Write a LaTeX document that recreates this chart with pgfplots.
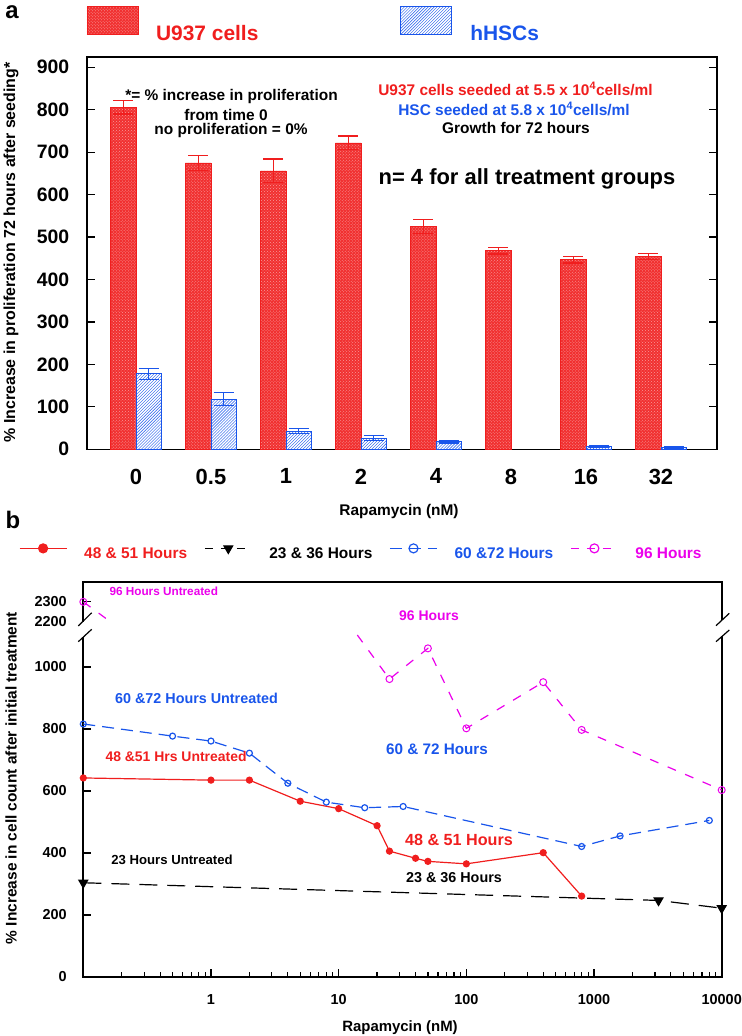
\documentclass[border=0pt]{standalone}
\usepackage{fontspec}
\setmainfont{Liberation Sans}
\usepackage{pgfplots}
\pgfplotsset{compat=1.18}
\usetikzlibrary{patterns}
\definecolor{myred}{RGB}{240,30,30}
\definecolor{myblue}{RGB}{25,85,235}
\definecolor{mymag}{RGB}{235,0,235}
\newcommand\fs[1]{\fontsize{#1}{#1}\selectfont\bfseries}
\begin{document}
\begin{tikzpicture}
\useasboundingbox (0,0) rectangle (742bp,-1036bp);

% ---------------- panel a ----------------
\begin{axis}[
  name=pa, at={(86.7bp,-449.3bp)}, anchor=south west, scale only axis,
  width=630.3bp, height=392.6bp,
  xmin=-0.657, xmax=7.747, ymin=0, ymax=925,
  ybar=0pt, bar width=25.5bp,
  xtick={0,1,2,3,4,5,6,7}, xticklabels={0,0.5,1,2,4,8,16,32},
  xtick style={draw=none},
  ytick={0,100,200,300,400,500,600,700,800,900},
  tick align=inside, major tick length=8bp,
  ytick style={line width=1.2bp, black},
  axis line style={line width=1.6bp},
  /pgf/number format/assume math mode=true,
  yticklabel style={font=\fs{19.5}, xshift=-14bp},
  xticklabel style={font=\fs{22}, yshift=-16bp},
  legend style={at={(0,1.084)}, anchor=west, draw=none, fill=none, inner sep=0pt, outer sep=0pt,
    nodes={inner sep=0pt}, font=\fs{21}, legend columns=2,
    /tikz/every odd column/.append style={column sep=18bp},
    /tikz/every even column/.append style={column sep=142bp}},
  legend image code/.code={\draw[#1] (0bp,-1bp) rectangle (51bp,27bp);},
]
\addplot[fill=myred!92!white, draw=myred, postaction={pattern=crosshatch dots, pattern color=white!55!myred},
  error bars/.cd, y dir=both, y explicit,
  error bar style={myred, line width=1.2bp},
  error mark options={rotate=90, myred, mark size=10bp, line width=1.2bp}]
  coordinates {(0,806) +- (0,16) (1,675) +- (0,18) (2,656) +- (0,28) (3,722) +- (0,16)
               (4,525) +- (0,17) (5,468) +- (0,8) (6,447) +- (0,8) (7,455) +- (0,7)};
\addlegendentry{\textcolor{myred}{U937 cells}}
\addplot[fill=white, draw=myblue, line width=0.9bp, postaction={pattern=north east lines, pattern color=myblue},
  error bars/.cd, y dir=both, y explicit,
  error bar style={myblue, line width=1.2bp},
  error mark options={rotate=90, myblue, mark size=10bp, line width=1.2bp}]
  coordinates {(0,178) +- (0,13) (1,118) +- (0,15) (2,43) +- (0,6) (3,26) +- (0,6)
               (4,18) +- (0,3) (6,7) +- (0,2) (7,5) +- (0,2)};
\addlegendentry{\textcolor{myblue}{hHSCs}}
\end{axis}

% ---------------- panel b ----------------
\begin{axis}[
  name=pb, at={(83.3bp,-977bp)}, anchor=south west, scale only axis,
  width=638.4bp, height=395bp,
  xmode=log, log basis x=10, xmin=0.1, xmax=10000, ymin=0, ymax=1274,
  xtick={1,10,100,1000,10000}, xticklabels={1,10,100,1000,10000},
  minor xtick={0.2,0.3,0.4,0.5,0.6,0.7,0.8,0.9,2,3,4,5,6,7,8,9,20,30,40,50,60,70,80,90,200,300,400,500,600,700,800,900,2000,3000,4000,5000,6000,7000,8000,9000},
  ytick={0,200,400,600,800,1000,1210}, yticklabels={0,200,400,600,800,1000,2300},
  extra y ticks={1145}, extra y tick labels={2200}, extra y tick style={major tick length=0pt},
  xtick pos=left, ytick pos=left,
  tick align=inside, major tick length=8bp, minor tick length=5bp,
  tick style={line width=1.2bp, black},
  axis line style={line width=1.8bp},
  /pgf/number format/assume math mode=true,
  yticklabel style={font=\fs{14.5}, xshift=-13bp},
  xticklabel style={font=\fs{14.5}, yshift=-14bp},
  clip=false,
  legend style={at={(-0.1007,1.0767)}, anchor=west, draw=none, fill=none, inner sep=0pt, outer sep=0pt,
    nodes={inner sep=0pt}, font=\fs{15.5}, legend columns=4,
    /tikz/every odd column/.append style={column sep=17bp},
    /tikz/every even column/.append style={column sep=17bp}},
  legend image code/.code={\draw[mark repeat=2,mark phase=2,#1] plot coordinates {(0bp,5bp) (23.5bp,5bp) (47bp,5bp)};},
]
\addlegendimage{myred, solid, line width=1.2bp, mark=*, mark size=4.5bp}
\addlegendentry{\textcolor{myred}{48 \& 51 Hours}}
\addlegendimage{black, line width=1.2bp, dash pattern=on 8bp off 8bp, mark=triangle*, mark size=5bp, mark options={solid, rotate=180}}
\addlegendentry{23 \& 36 Hours}
\addlegendimage{myblue, line width=1.2bp, dash pattern=on 12bp off 7bp, mark=o, mark size=4.5bp, mark options={solid}}
\addlegendentry{\textcolor{myblue}{60 \&72 Hours}}
\addlegendimage{mymag, line width=1.2bp, dash pattern=on 8bp off 8bp, mark=o, mark size=4.5bp, mark options={solid}}
\addlegendentry{\textcolor{mymag}{96 Hours}}

% 96 hours (upper values on broken scale: 2300 -> 1210)
\addplot[mymag, line width=1.2bp, dash pattern=on 9bp off 10bp, unbounded coords=jump, forget plot]
  coordinates {(0.1,1210) (0.152,1155) (1,nan) (14,1103) (25,961) (50,1060) (100,802) (400,951) (800,797) (10000,603)};
\addplot[mymag, only marks, mark=o, mark size=3.5bp, line width=1bp, forget plot]
  coordinates {(0.1,1210) (25,961) (50,1060) (100,802) (400,951) (800,797) (10000,603)};
% 60 & 72 hours
\addplot[myblue, line width=1.2bp, dash pattern=on 12bp off 7bp, mark=o, mark size=3bp, mark options={solid}, forget plot]
  coordinates {(0.1,816) (0.5,777) (1,761) (2,722) (4,625) (8,564) (16,546) (32,550) (800,421) (1600,455) (8000,505)};
% 23 & 36 hours
\addplot[black, line width=1.2bp, dash pattern=on 18bp off 10bp, mark=triangle*, mark size=5bp, mark options={solid, rotate=180}, forget plot]
  coordinates {(0.1,304) (3200,247) (10000,222)};
% 48 & 51 hours
\addplot[myred, line width=1.2bp, mark=*, mark size=3bp, forget plot]
  coordinates {(0.1,642) (1,635) (2,635) (5,567) (10,543) (20,488) (25,406) (40,383) (50,373) (100,365) (400,401) (800,261)};
\end{axis}

% axis breaks
\fill[white] (80.3bp,-621.7bp) rectangle (86.3bp,-636.7bp);
\draw[line width=1.2bp] (78.3bp,-626bp) -- (91.7bp,-612.7bp);
\draw[line width=1.2bp] (78.3bp,-641.7bp) -- (91.7bp,-629.3bp);
\fill[white] (718.7bp,-620bp) rectangle (724.7bp,-636bp);
\draw[line width=1.2bp] (716bp,-625.7bp) -- (729.3bp,-613.3bp);
\draw[line width=1.2bp] (716bp,-641.7bp) -- (729.3bp,-630bp);

% labels panel a
\node[font=\fs{24}, anchor=north, inner sep=0pt] at (12bp,-5bp) {a};
\node[font=\fs{16}, rotate=90] at (11bp,-252.5bp) {\% Increase in proliferation 72 hours after seeding*};
\node[font=\fs{15.5}] at (399bp,-512bp) {Rapamycin (nM)};
\node[font=\fs{15.5}] at (231.5bp,-96.7bp) {*= \% increase in proliferation};
\node[font=\fs{15.5}] at (226bp,-115bp) {from time 0};
\node[font=\fs{15.5}] at (231bp,-131bp) {no proliferation = 0\%};
\node[font=\fs{15.5}, text=myred] at (515.5bp,-89bp) {U937 cells seeded at 5.5 x 10\textsuperscript{4}cells/ml};
\node[font=\fs{15.5}, text=myblue] at (514bp,-109bp) {HSC seeded at 5.8 x 10\textsuperscript{4}cells/ml};
\node[font=\fs{15.5}] at (516bp,-128bp) {Growth for 72 hours};
\node[font=\fs{22}] at (527bp,-179bp) {n= 4 for all treatment groups};

% labels panel b
\node[font=\fs{24}] at (13bp,-520bp) {b};
\node[font=\fs{15.5}, rotate=90] at (11bp,-778bp) {\% Increase in cell count after initial treatment};
\node[font=\fs{15}] at (400bp,-1028bp) {Rapamycin (nM)};
\node[font=\fs{11.8}, text=mymag, anchor=west] at (106bp,-591.7bp) {96 Hours Untreated};
\node[font=\fs{14}, text=mymag] at (429bp,-616bp) {96 Hours};
\node[font=\fs{14.4}, text=myblue] at (196.5bp,-698bp) {60 \&72 Hours Untreated};
\node[font=\fs{15.3}, text=myblue] at (437bp,-749bp) {60 \& 72 Hours};
\node[font=\fs{14}, text=myred, anchor=west] at (102bp,-757bp) {48 \&51 Hrs Untreated};
\node[font=\fs{16.2}, text=myred] at (459bp,-840bp) {48 \& 51 Hours};
\node[font=\fs{13.2}] at (172bp,-860bp) {23 Hours Untreated};
\node[font=\fs{14.4}] at (454bp,-878bp) {23 \& 36 Hours};
\end{tikzpicture}
\end{document}
